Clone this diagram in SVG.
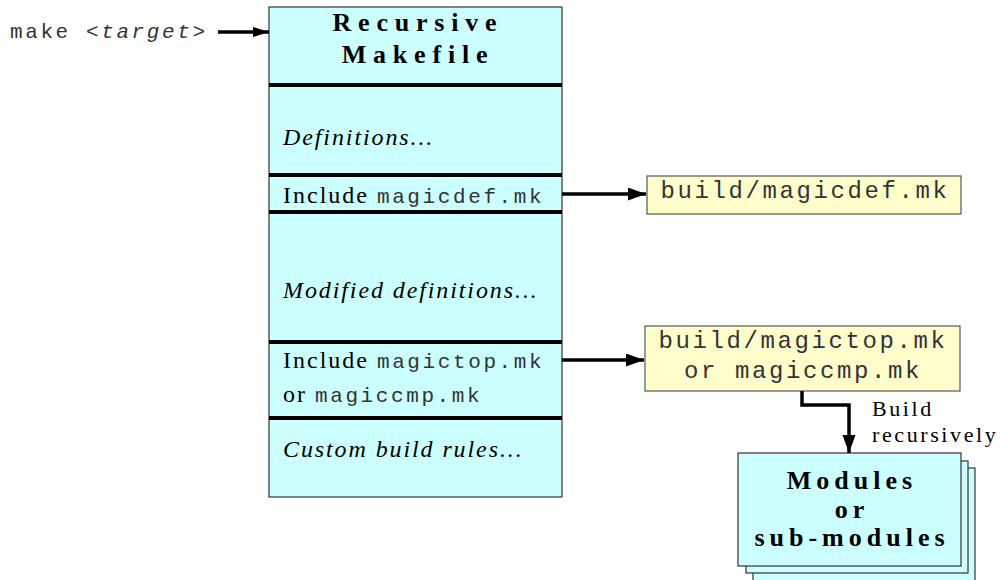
<svg xmlns="http://www.w3.org/2000/svg" width="1005" height="580" viewBox="0 0 1005 580">
  <style>
    .panel { fill: #ccffff; stroke: #333333; stroke-width: 1.2; }
    .file { fill: #ffffcc; stroke: #555555; stroke-width: 1.2; }
    .sep { stroke: #000000; stroke-width: 4; }
    .wire { fill: none; stroke: #000000; stroke-width: 3.5; }
    .title { font-family: "Liberation Serif", serif; font-weight: bold; font-size: 26px; letter-spacing: 6.8px; fill: #000; }
    .mod { font-family: "Liberation Serif", serif; font-weight: bold; font-size: 26px; letter-spacing: 5px; fill: #000; }
    .ital { font-family: "Liberation Serif", serif; font-style: italic; font-size: 24px; letter-spacing: 1.9px; fill: #000; }
    .rom { font-family: "Liberation Serif", serif; font-size: 24px; letter-spacing: 2px; fill: #000; }
    .code { font-family: "Liberation Mono", monospace; font-size: 21px; letter-spacing: 2.6px; fill: #333; font-weight: normal; }
    .path { font-family: "Liberation Mono", monospace; font-size: 24px; letter-spacing: 2.6px; fill: #333; }
    .note { font-family: "Liberation Serif", serif; font-size: 22px; letter-spacing: 2.6px; fill: #000; }
  </style>
  <defs>
    <marker id="head" markerUnits="userSpaceOnUse" markerWidth="19" markerHeight="14" refX="18" refY="6.5" orient="auto">
      <path d="M0,0 L18,6.5 L0,13 z" fill="#000"/>
    </marker>
    <marker id="headSmall" markerUnits="userSpaceOnUse" markerWidth="17" markerHeight="11" refX="16" refY="5" orient="auto">
      <path d="M0,0 L16,5 L0,10 z" fill="#000"/>
    </marker>
  </defs>

  <!-- command line invocation -->
  <g id="invoke">
    <text x="10" y="38" class="code">make <tspan font-style="italic">&lt;target&gt;</tspan></text>
  </g>

  <!-- the recursive makefile and its sections -->
  <g id="makefile">
    <rect x="269" y="7" width="293" height="490" class="panel"/>
    <line x1="269" y1="85" x2="562" y2="85" class="sep"/>
    <line x1="269" y1="175" x2="562" y2="175" class="sep"/>
    <line x1="269" y1="212" x2="562" y2="212" class="sep"/>
    <line x1="269" y1="342" x2="562" y2="342" class="sep"/>
    <line x1="269" y1="418" x2="562" y2="418" class="sep"/>
    <text x="418" y="31" class="title" text-anchor="middle">Recursive</text>
    <text x="418" y="63" class="title" text-anchor="middle">Makefile</text>
    <text x="283" y="145" class="ital">Definitions...</text>
    <text x="283" y="203" class="rom">Include <tspan class="code">magicdef.mk</tspan></text>
    <text x="283" y="298" class="ital">Modified definitions...</text>
    <text x="283" y="368" class="rom">Include <tspan class="code">magictop.mk</tspan></text>
    <text x="283" y="402" class="rom">or <tspan class="code">magiccmp.mk</tspan></text>
    <text x="283" y="457" class="ital">Custom build rules...</text>
  </g>

  <!-- generated include files -->
  <g id="magicdef">
    <rect x="647" y="176" width="314" height="38" class="file"/>
    <text x="805" y="198" class="path" text-anchor="middle">build/magicdef.mk</text>
  </g>
  <g id="magictop">
    <rect x="645" y="326" width="315" height="65" class="file"/>
    <text x="803" y="348" class="path" text-anchor="middle">build/magictop.mk</text>
    <text x="803" y="378" class="path" text-anchor="middle">or magiccmp.mk</text>
  </g>

  <!-- stack of sub-module makefiles -->
  <g id="modules">
    <rect x="753" y="468" width="222" height="120" class="panel" stroke="#222"/>
    <rect x="746" y="461" width="222" height="112" class="panel" stroke="#222"/>
    <rect x="738" y="453" width="223" height="113" class="panel" stroke="#555"/>
    <text x="852" y="489" class="mod" text-anchor="middle">Modules</text>
    <text x="852" y="518" class="mod" text-anchor="middle">or</text>
    <text x="852" y="546" class="mod" text-anchor="middle">sub-modules</text>
  </g>

  <!-- connectors -->
  <g id="connectors">
    <line x1="218" y1="32" x2="269" y2="32" class="wire" marker-end="url(#headSmall)"/>
    <line x1="562" y1="194" x2="646" y2="194" class="wire" marker-end="url(#head)"/>
    <line x1="562" y1="360" x2="644" y2="360" class="wire" marker-end="url(#head)"/>
    <path d="M802,391 V405 H849 V453" class="wire" marker-end="url(#head)"/>
    <text x="872" y="416" class="note">Build</text>
    <text x="872" y="442" class="note">recursively</text>
  </g>
</svg>
